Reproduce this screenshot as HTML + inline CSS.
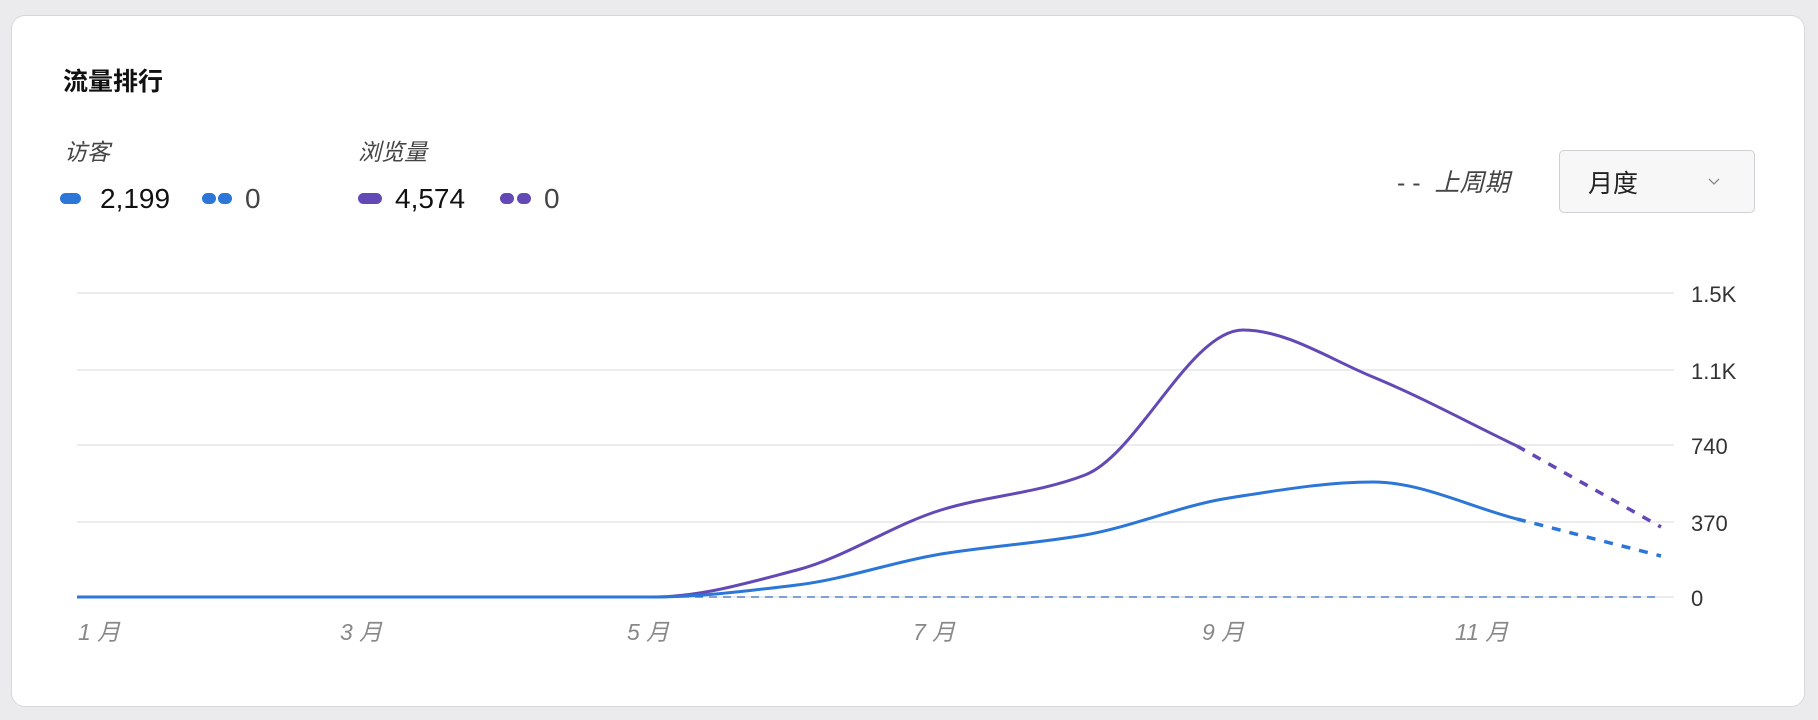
<!DOCTYPE html>
<html><head><meta charset="utf-8"><style>
body{margin:0;width:1818px;height:720px;background:#ebebed;font-family:"Liberation Sans","Noto Sans CJK SC",sans-serif;overflow:hidden;position:relative}
.card{position:absolute;left:11px;top:15px;width:1794px;height:692px;background:#fff;border:1px solid #d8d8dc;border-radius:14px;box-sizing:border-box}
.t{position:absolute;white-space:nowrap;line-height:1}
.pill{position:absolute;height:11px;border-radius:6px}
</style></head><body>
<div class="card"></div>
<div class="t" style="left:63px;top:70px;font-size:25px;font-weight:bold;color:#111">流量排行</div>
<div class="t" style="left:64px;top:141px;font-size:23px;font-style:italic;color:#444">访客</div>
<div class="t" style="left:358px;top:141px;font-size:23px;font-style:italic;color:#444">浏览量</div>
<div class="pill" style="left:60px;top:193px;width:21px;background:#2b76d6"></div>
<div class="t" style="left:100px;top:185px;font-size:28px;color:#111">2,199</div>
<div class="pill" style="left:202px;top:193px;width:14px;background:#2b76d6"></div>
<div class="pill" style="left:218px;top:193px;width:14px;background:#2b76d6"></div>
<div class="t" style="left:245px;top:185px;font-size:28px;color:#444">0</div>
<div class="pill" style="left:358px;top:193px;width:24px;background:#6349b5"></div>
<div class="t" style="left:395px;top:185px;font-size:28px;color:#111">4,574</div>
<div class="pill" style="left:500px;top:193px;width:14px;background:#6349b5"></div>
<div class="pill" style="left:517px;top:193px;width:14px;background:#6349b5"></div>
<div class="t" style="left:544px;top:185px;font-size:28px;color:#444">0</div>
<div class="t" style="left:1397px;top:171px;font-size:25px;color:#444">- -&nbsp; <i>上周期</i></div>
<div style="position:absolute;left:1559px;top:150px;width:196px;height:63px;box-sizing:border-box;border:1px solid #d0d0d4;border-radius:5px;background:#f7f7f7"></div>
<div class="t" style="left:1588px;top:172px;font-size:25px;color:#222">月度</div>
<svg style="position:absolute;left:0;top:0" width="1818" height="720">
<polyline points="1709,179 1714,184 1719,179" fill="none" stroke="#888" stroke-width="1.3"/>
<g stroke="#e6e6ea" stroke-width="1.5">
<line x1="77" y1="293" x2="1674" y2="293"/><line x1="77" y1="370" x2="1674" y2="370"/>
<line x1="77" y1="445" x2="1674" y2="445"/><line x1="77" y1="522" x2="1674" y2="522"/>
<line x1="77" y1="597" x2="1674" y2="597"/></g>
<g font-size="22" fill="#333" font-family="Liberation Sans,sans-serif">
<text x="1691" y="302">1.5K</text><text x="1691" y="379">1.1K</text><text x="1691" y="454">740</text>
<text x="1691" y="531">370</text><text x="1691" y="606">0</text></g>
<g font-size="23" fill="#888" font-style="italic" font-family="Liberation Sans,Noto Sans CJK SC,sans-serif">
<text x="78" y="640">1 月</text><text x="340" y="640">3 月</text><text x="627" y="640">5 月</text>
<text x="913" y="640">7 月</text><text x="1202" y="640">9 月</text><text x="1455" y="640">11 月</text></g>
<line x1="653" y1="597" x2="1661" y2="597" stroke="#3a6fc4" stroke-width="1.3" stroke-dasharray="8,6"/>
<path id="p" fill="none" stroke="#6349b5" stroke-width="3"/>
<path id="pd" fill="none" stroke="#6349b5" stroke-width="3.5" stroke-dasharray="9,9"/>
<path id="b" fill="none" stroke="#2b76d6" stroke-width="3"/>
<path id="bd" fill="none" stroke="#2b76d6" stroke-width="3.5" stroke-dasharray="9,9"/>
</svg>
<script>
function path(pts){var n=pts.length,d=[],m=[],i;for(i=0;i<n-1;i++)d.push((pts[i+1][1]-pts[i][1])/(pts[i+1][0]-pts[i][0]));
m[0]=d[0];m[n-1]=d[n-2];for(i=1;i<n-1;i++){m[i]=(d[i-1]*d[i]<=0)?0:2/(1/d[i-1]+1/d[i]);}
var s="M"+pts[0][0]+","+pts[0][1];for(i=0;i<n-1;i++){var h=(pts[i+1][0]-pts[i][0])/3;
s+=" C"+(pts[i][0]+h)+","+(pts[i][1]+m[i]*h)+" "+(pts[i+1][0]-h)+","+(pts[i+1][1]-m[i+1]*h)+" "+pts[i+1][0]+","+pts[i+1][1];}return s}
var X=function(i){return 77+144*i};
var bv=[597,597,597,597,597,585,554,535,498,482,519],pv=[597,597,597,597,597,570,510,475,330,377,446];
function pts(v){var a=v.map(function(y,i){return [X(i),y]});return a}
var pp=pts(pv);pp[8][0]+=14;
document.getElementById('b').setAttribute('d',path(pts(bv)));
document.getElementById('p').setAttribute('d',path(pp));
document.getElementById('bd').setAttribute('d','M'+X(10)+',519 L'+X(11)+',556');
document.getElementById('pd').setAttribute('d','M'+X(10)+',446 L'+X(11)+',527');
</script>
</body></html>
